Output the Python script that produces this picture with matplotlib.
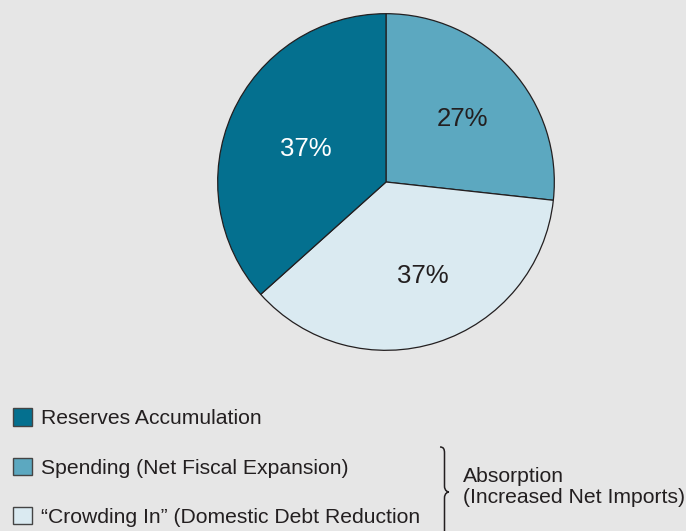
import numpy as np
import matplotlib.pyplot as plt
from matplotlib.path import Path
from matplotlib.patches import PathPatch

plt.rcParams['font.family'] = ['Liberation Sans', 'DejaVu Sans']

# data (clockwise from 12 o'clock)
categories = ['Spending (Net Fiscal Expansion)', '\u201cCrowding In\u201d (Domestic Debt Reduction',
              'Reserves Accumulation']
shares = [27, 37, 37]
colors = ['#5CA8C0', '#DAEAF1', '#04708F']
label_colors = ['#231F20', '#231F20', 'white']
legend_order = [2, 0, 1]
brace_text = 'Absorption\n(Increased Net Imports)'

bg = '#E6E6E6'
fig = plt.figure(figsize=(6.86, 5.31), dpi=100, facecolor=bg)

# pie axes: center (386,182), radius 170 px
W, H = 686, 531
ax = fig.add_axes([216 / W, (H - 352) / H, 340 / W, 340 / H])
ax.set_facecolor(bg)
wedges, texts, autotexts = ax.pie(
    shares, colors=colors, startangle=90, counterclock=False,
    autopct=lambda p: '%d%%' % round(p * sum(shares) / 100),
    pctdistance=0.6, radius=1,
    wedgeprops=dict(edgecolor='#231F20', linewidth=0.9),
    textprops=dict(fontsize=18.5))
# small nudges so the labels sit where the original puts them
nudges = [(0.007, -0.025), (0.034, 0.012), (0.072, -0.05)]
for t, c, (dx, dy) in zip(autotexts, label_colors, nudges):
    t.set_color(c)
    x, y = t.get_position()
    t.set_position((x + dx, y + dy))
ax.set_xlim(-1.01, 1.01)
ax.set_ylim(-1.01, 1.01)
ax.set_aspect('equal')
ax.axis('off')

leg = fig.legend([wedges[i] for i in legend_order], [categories[i] for i in legend_order],
                 loc='upper left', bbox_to_anchor=(5 / W, (H - 400) / H),
                 frameon=False, fontsize=15.2, handlelength=0.9, handleheight=0.9,
                 handletextpad=0.4, labelspacing=1.38, borderaxespad=0,
                 labelcolor='#231F20')
for h in leg.legend_handles:
    h.set_edgecolor('#444444')
    h.set_linewidth(1.0)

# overlay in pixel coords for the brace
ov = fig.add_axes([0, 0, 1, 1])
ov.set_xlim(0, W)
ov.set_ylim(H, 0)
ov.axis('off')
ov.patch.set_alpha(0)
x0, x1, xt = 440, 444.5, 449
yt, ym, yb = 447, 492, 537
verts = [(x0, yt), (x1 - 1, yt), (x1, yt + 2), (x1, yt + 6),
         (x1, ym - 6), (x1, ym - 1), (xt - 1, ym), (xt, ym),
         (xt - 1, ym), (x1, ym + 1), (x1, ym + 6),
         (x1, yb - 6), (x1, yb - 2), (x1 - 1, yb), (x0, yb)]
codes = [Path.MOVETO, Path.CURVE4, Path.CURVE4, Path.CURVE4,
         Path.LINETO, Path.CURVE4, Path.CURVE4, Path.CURVE4,
         Path.CURVE4, Path.CURVE4, Path.CURVE4,
         Path.LINETO, Path.CURVE4, Path.CURVE4, Path.CURVE4]
ov.add_patch(PathPatch(Path(verts, codes), facecolor='none', edgecolor='#231F20', linewidth=1.1))
ov.text(463, 487, brace_text, fontsize=15.2, color='#231F20', va='center', ha='left',
        linespacing=1.1)

fig.savefig('out.png', dpi=100, facecolor=bg)
